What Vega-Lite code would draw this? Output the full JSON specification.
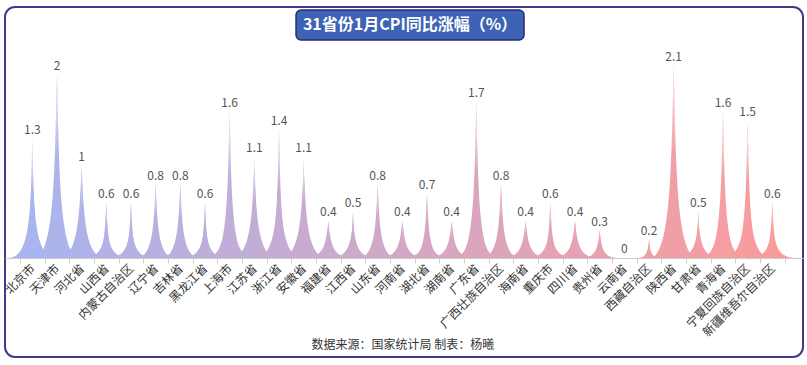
{
  "$schema": "https://vega.github.io/schema/vega-lite/v6.json",
  "width": 798,
  "height": 350,
  "autosize": "none",
  "padding": {"left": 5, "top": 7, "right": 4, "bottom": 8},
  "background": "#ffffff",
  "config": {
    "font": "Noto Sans CJK SC",
    "view": {"stroke": "#3f3a8a", "strokeWidth": 2, "cornerRadius": 10}
  },
  "layer": [
    {
      "data": {
        "values": [
          {"province": "北京市", "value": 1.3},
          {"province": "天津市", "value": 2},
          {"province": "河北省", "value": 1},
          {"province": "山西省", "value": 0.6},
          {"province": "内蒙古自治区", "value": 0.6},
          {"province": "辽宁省", "value": 0.8},
          {"province": "吉林省", "value": 0.8},
          {"province": "黑龙江省", "value": 0.6},
          {"province": "上海市", "value": 1.6},
          {"province": "江苏省", "value": 1.1},
          {"province": "浙江省", "value": 1.4},
          {"province": "安徽省", "value": 1.1},
          {"province": "福建省", "value": 0.4},
          {"province": "江西省", "value": 0.5},
          {"province": "山东省", "value": 0.8},
          {"province": "河南省", "value": 0.4},
          {"province": "湖北省", "value": 0.7},
          {"province": "湖南省", "value": 0.4},
          {"province": "广东省", "value": 1.7},
          {"province": "广西壮族自治区", "value": 0.8},
          {"province": "海南省", "value": 0.4},
          {"province": "重庆市", "value": 0.6},
          {"province": "四川省", "value": 0.4},
          {"province": "贵州省", "value": 0.3},
          {"province": "云南省", "value": 0},
          {"province": "西藏自治区", "value": 0.2},
          {"province": "陕西省", "value": 2.1},
          {"province": "甘肃省", "value": 0.5},
          {"province": "青海省", "value": 1.6},
          {"province": "宁夏回族自治区", "value": 1.5},
          {"province": "新疆维吾尔自治区", "value": 0.6}
        ]
      },
      "encoding": {
        "x": {
          "field": "province",
          "type": "nominal",
          "sort": null,
          "title": null,
          "scale": {"paddingInner": 0, "paddingOuter": 0.675, "align": 0.45},
          "axis": {
            "orient": "bottom",
            "offset": -99,
            "labelAngle": -45,
            "labelAlign": "right",
            "labelBaseline": "middle",
            "labelPadding": 3,
            "labelFontSize": 12,
            "labelColor": "#333333",
            "labelOverlap": false,
            "labelLimit": 200,
            "tickBand": "extent",
            "tickSize": 5,
            "tickColor": "#cccccc",
            "domainColor": "#cccccc",
            "domainWidth": 1,
            "grid": false
          }
        }
      },
      "layer": [
        {
          "mark": {"type": "point", "filled": true, "opacity": 1, "strokeWidth": 0,
                   "shape": "M-1,0 L1,0 C0.1,0 0.1,-4 0,-8 C-0.1,-4 -0.1,0 -1,0 Z"},
          "encoding": {
            "y": {"datum": 0, "type": "quantitative", "scale": {"domain": [-1.082, 2.743], "nice": false, "zero": false}, "axis": null},
            "size": {"field": "value", "type": "quantitative", "legend": null,
                     "scale": {"type": "pow", "exponent": 2, "domain": [0, 2.1], "range": [0, 2307.6], "clamp": true}},
            "color": {"field": "province", "type": "nominal", "sort": null, "legend": null,
                      "scale": {"range": ["#aab4ee","#adb3eb","#afb2e9","#b2b2e6","#b5b1e3","#b8b0e0","#baafde","#bdaedb","#c0aed8","#c2add5","#c5acd3","#c8abd0","#caaacd","#cdaaca","#d0a9c8","#d2a8c5","#d5a7c2","#d8a6c0","#dba6bd","#dda5ba","#e0a4b7","#e3a3b5","#e5a2b2","#e8a2af","#eba1ac","#eea0aa","#f09fa7","#f39ea4","#f69ea2","#f89d9f","#fb9c9c"]}}
          }
        },
        {
          "mark": {"type": "point", "filled": true, "opacity": 1, "strokeWidth": 0,
                   "shape": "M-1,0 L1,0 C0.1,0 0.1,-1.90625 0,-3.8125 C-0.1,-1.90625 -0.1,0 -1,0 Z"},
          "encoding": {
            "y": {"datum": 0, "type": "quantitative"},
            "size": {"field": "value", "type": "quantitative", "legend": null,
                     "scale": {"type": "pow", "exponent": 2, "domain": [0, 1], "range": [0, 2304], "clamp": true}},
            "color": {"field": "province", "type": "nominal", "sort": null, "legend": null}
          }
        },
        {
          "mark": {"type": "point", "filled": true, "opacity": 1, "strokeWidth": 0,
                   "shape": "M-1,0 L1,0 C0.1,0 0.1,-0.7625 0,-1.525 C-0.1,-0.7625 -0.1,0 -1,0 Z"},
          "encoding": {
            "y": {"datum": 0, "type": "quantitative"},
            "size": {"field": "value", "type": "quantitative", "legend": null,
                     "scale": {"type": "pow", "exponent": 2, "domain": [0, 0.4], "range": [0, 2304], "clamp": true}},
            "color": {"field": "province", "type": "nominal", "sort": null, "legend": null}
          }
        },
        {
          "mark": {"type": "point", "filled": true, "opacity": 1, "strokeWidth": 0,
                   "shape": "M-1,0 L1,0 C0.1,0 0.1,-4 0,-8 C-0.1,-4 -0.1,0 -1,0 Z",
                   "fill": {"gradient": "linear", "x1": 0, "y1": 0, "x2": 0, "y2": 1,
                            "stops": [{"offset": 0, "color": "rgba(255,255,255,0.85)"}, {"offset": 0.45, "color": "rgba(255,255,255,0)"}]}},
          "encoding": {
            "y": {"datum": 0, "type": "quantitative"},
            "size": {"field": "value", "type": "quantitative", "legend": null,
                     "scale": {"type": "pow", "exponent": 2, "domain": [0, 2.1], "range": [0, 2307.6], "clamp": true}}
          }
        },
        {
          "mark": {"type": "text", "baseline": "bottom", "dy": -2, "fontSize": 12, "color": "#555555"},
          "encoding": {
            "y": {"field": "value", "type": "quantitative"},
            "text": {"field": "value", "type": "quantitative"}
          }
        }
      ],
      "resolve": {"scale": {"size": "independent"}}
    },
    {
      "data": {"values": [{"title": "31省份1月CPI同比涨幅（%）", "source": "数据来源：国家统计局 制表：杨曦"}]},
      "layer": [
        {
          "mark": {"type": "rect", "fill": "#3d64b4", "stroke": "#2b2a72", "strokeWidth": 1.5, "cornerRadius": 5},
          "encoding": {
            "x": {"datum": 0.3647, "type": "quantitative", "scale": {"domain": [0, 1], "nice": false, "zero": false}, "axis": null},
            "x2": {"datum": 0.6504},
            "y": {"datum": 0.9914, "type": "quantitative", "scale": {"domain": [0, 1], "nice": false, "zero": false}, "axis": null},
            "y2": {"datum": 0.9057}
          }
        },
        {
          "mark": {"type": "text", "fontSize": 16, "fontWeight": "bold", "color": "#ffffff", "align": "center", "baseline": "middle"},
          "encoding": {
            "x": {"datum": 0.5075, "type": "quantitative"},
            "y": {"datum": 0.9486, "type": "quantitative"},
            "text": {"field": "title"}
          }
        },
        {
          "mark": {"type": "text", "fontSize": 12, "color": "#333333", "align": "center", "baseline": "middle"},
          "encoding": {
            "x": {"datum": 0.4987, "type": "quantitative"},
            "y": {"datum": 0.0343, "type": "quantitative"},
            "text": {"field": "source"}
          }
        }
      ]
    }
  ],
  "resolve": {"scale": {"x": "independent", "y": "independent"}}
}
